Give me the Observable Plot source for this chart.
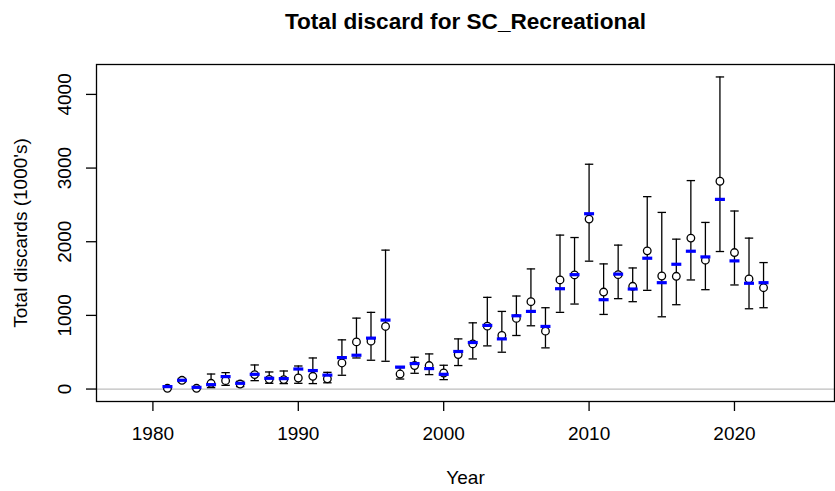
<!DOCTYPE html>
<html>
<head>
<meta charset="utf-8">
<script src="https://cdn.jsdelivr.net/npm/d3@7"></script>
<script src="https://cdn.jsdelivr.net/npm/@observablehq/plot@0.6"></script>
<style>
  html, body { margin: 0; padding: 0; background: #fff; }
  #chart svg { display: block; }
</style>
</head>
<body>
<div id="chart"></div>
<script>
const years = d3.range(1981, 2023);
const observed = [10, 119, 10, 78, 114, 68, 196, 132, 128, 150, 173, 139, 354, 640, 650, 850, 204, 319, 319, 218,
  469, 613, 854, 727, 959, 1186, 786, 1481, 1549, 2308, 1317, 1553, 1395, 1876, 1535, 1531, 2049, 1749, 2821, 1853, 1495, 1376];
const predicted = [33, 119, 23, 60, 169, 78, 200, 146, 142, 272, 251, 189, 427, 459, 691, 936, 298, 346, 278, 200,
  510, 632, 864, 681, 995, 1054, 850, 1362, 1553, 2380, 1213, 1560, 1358, 1776, 1444, 1694, 1871, 1794, 2575, 1740, 1436, 1444];
const lower = [3, 95, 3, 19, 50, 33, 114, 78, 74, 78, 74, 85, 187, 422, 391, 377, 136, 214, 196, 128,
  319, 409, 586, 500, 727, 859, 559, 1041, 1154, 1736, 1013, 1227, 1186, 1340, 981, 1145, 1481, 1349, 1867, 1413, 1090, 1104];
const upper = [20, 145, 20, 204, 223, 105, 327, 232, 245, 313, 422, 227, 668, 963, 1041, 1886, 290, 432, 477, 323,
  681, 899, 1245, 1054, 1263, 1631, 1104, 2090, 2057, 3052, 1699, 1954, 1644, 2612, 2398, 2035, 2830, 2262, 4237, 2417, 2049, 1717];
const xTicks = [1980, 1990, 2000, 2010, 2020];
const yTicks = [0, 1000, 2000, 3000, 4000];
const titleText = "Total discard for SC_Recreational";
const xLabel = "Year";
const yLabel = "Total discards (1000's)";

const data = years.map((year, i) => ({year, obs: observed[i], pred: predicted[i], lo: lower[i], hi: upper[i]}));

const hline = {
  draw(context, size) {
    const w = Math.sqrt(size / Math.PI);
    context.moveTo(-w, 0);
    context.lineTo(w, 0);
  }
};

const chart = Plot.plot({
  width: 835,
  height: 491,
  marginLeft: 96,
  marginRight: 1,
  marginTop: 64,
  marginBottom: 90,
  style: {fontFamily: "'Liberation Sans', Arial, sans-serif", fontSize: "19px", background: "#fff", color: "#000"},
  x: {domain: [1976.12, 2026.88]},
  y: {domain: [-169, 4406]},
  marks: [
    Plot.ruleY([0], {stroke: "#bebebe", strokeWidth: 1.3}),
    Plot.frame({stroke: "#000", strokeWidth: 1.3}),
    Plot.axisX({ticks: xTicks, tickSize: 10, tickPadding: 15, tickFormat: d => String(d), label: null, fontSize: 19, strokeWidth: 1.3}),
    Plot.axisY({ticks: yTicks, tickSize: 10, tickFormat: () => "", label: null, strokeWidth: 1.3}),
    Plot.text(yTicks, {y: d => d, text: d => String(d), frameAnchor: "left", dx: -26, rotate: -90, textAnchor: "middle", lineAnchor: "bottom", fontSize: 19}),
    Plot.text([xLabel], {frameAnchor: "bottom", dy: 82, fontSize: 19}),
    Plot.text([yLabel], {frameAnchor: "left", dx: -76, rotate: -90, textAnchor: "middle", fontSize: 19}),
    Plot.text([titleText], {frameAnchor: "top", dy: -52, fontSize: 22.6, fontWeight: "bold"}),
    Plot.ruleX(data, {x: "year", y1: "lo", y2: "hi", stroke: "#000", strokeWidth: 1.3}),
    Plot.dot(data, {x: "year", y: "lo", symbol: hline, r: 4.2, stroke: "#000", strokeWidth: 1.3}),
    Plot.dot(data, {x: "year", y: "hi", symbol: hline, r: 4.2, stroke: "#000", strokeWidth: 1.3}),
    Plot.dot(data, {x: "year", y: "obs", r: 3.8, fill: "#fff", stroke: "#000", strokeWidth: 1.3}),
    Plot.dot(data, {x: "year", y: "pred", symbol: hline, r: 5, stroke: "#0000ff", strokeWidth: 3.2})
  ]
});
document.getElementById("chart").appendChild(chart);
</script>
</body>
</html>
